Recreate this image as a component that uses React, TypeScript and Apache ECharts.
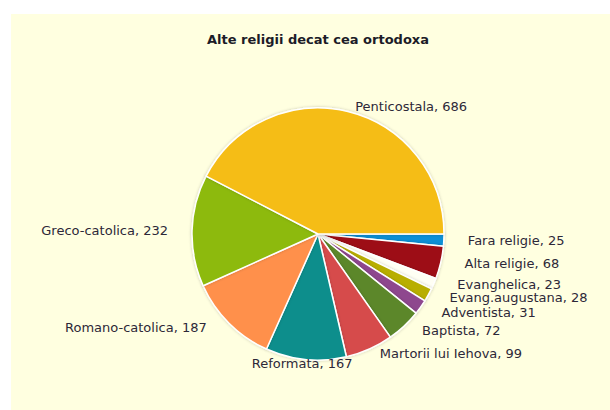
import React, { useEffect, useRef } from "react";
import * as echarts from "echarts";

const titleText = "Alte religii decat cea ortodoxa";
const categories = [
  "Fara religie",
  "Alta religie",
  "Evanghelica",
  "Evang.augustana",
  "Adventista",
  "Baptista",
  "Martorii lui Iehova",
  "Reformata",
  "Romano-catolica",
  "Greco-catolica",
  "Penticostala",
];
const values = [25, 68, 23, 28, 31, 72, 99, 167, 187, 232, 686];
const colors = [
  "#0A90D6",
  "#9D0C14",
  "#FFFFF4",
  "#B8AE06",
  "#8E468E",
  "#5B8729",
  "#D64C4C",
  "#0A8E8C",
  "#FF904B",
  "#8DBA08",
  "#F5BD18",
];

// label fine-tuning (styling, not data)
const labelTweaks: Record<string, { dx?: number; dy?: number; align?: string }> = {
  Reformata: { align: "center", dx: 15, dy: -2 },
  Penticostala: { dx: -12, dy: 1 },
  "Martorii lui Iehova": { dx: -10, dy: -1 },
  Baptista: { dx: -4 },
  Evanghelica: { dy: -2 },
  "Evang.augustana": { dx: -2 },
  Adventista: { dx: -2, dy: 2 },
};

export default function App() {
  const ref = useRef<HTMLDivElement>(null);
  useEffect(() => {
    if (!ref.current) return;
    const chart = echarts.init(ref.current, undefined, { renderer: "svg" });
    const data = categories.map((name, i) => ({
      name,
      value: values[i],
      itemStyle: { color: colors[i] },
    }));
    chart.setOption({
      animation: false,
      backgroundColor: "#ffffff",
      graphic: [
        {
          type: "rect",
          z: -100,
          silent: true,
          shape: { x: 11, y: 14, width: 599, height: 396 },
          style: { fill: "#FFFFE0" },
        },
      ],
      title: {
        text: titleText,
        left: 202,
        top: 28,
        textStyle: {
          fontFamily: "DejaVu Sans",
          fontWeight: "bold",
          fontSize: 13,
          color: "#1c1c28",
        },
      },
      series: [
        {
          type: "pie",
          center: [318, 234],
          radius: 126,
          startAngle: 0,
          clockwise: true,
          avoidLabelOverlap: false,
          data,
          itemStyle: {
            borderColor: "#ffffff",
            borderWidth: 1.5,
            shadowBlur: 3,
            shadowColor: "rgba(0,0,0,0.22)",
          },
          label: {
            show: true,
            position: "outside",
            formatter: "{b}, {c}",
            fontFamily: "DejaVu Sans",
            fontSize: 13,
            lineHeight: 13,
            color: "#2d2838",
            distanceToLabelLine: 5,
          },
          labelLine: { show: false, length: 6, length2: 13 },
          labelLayout: (params: any) => {
            const t = labelTweaks[categories[params.dataIndex]];
            return t ? { ...t } : {};
          },
          emphasis: { disabled: true },
        },
      ],
    });
    return () => chart.dispose();
  }, []);
  return (
    <div
      ref={ref}
      style={{ position: "absolute", left: 0, top: 0, width: 610, height: 410 }}
    />
  );
}
